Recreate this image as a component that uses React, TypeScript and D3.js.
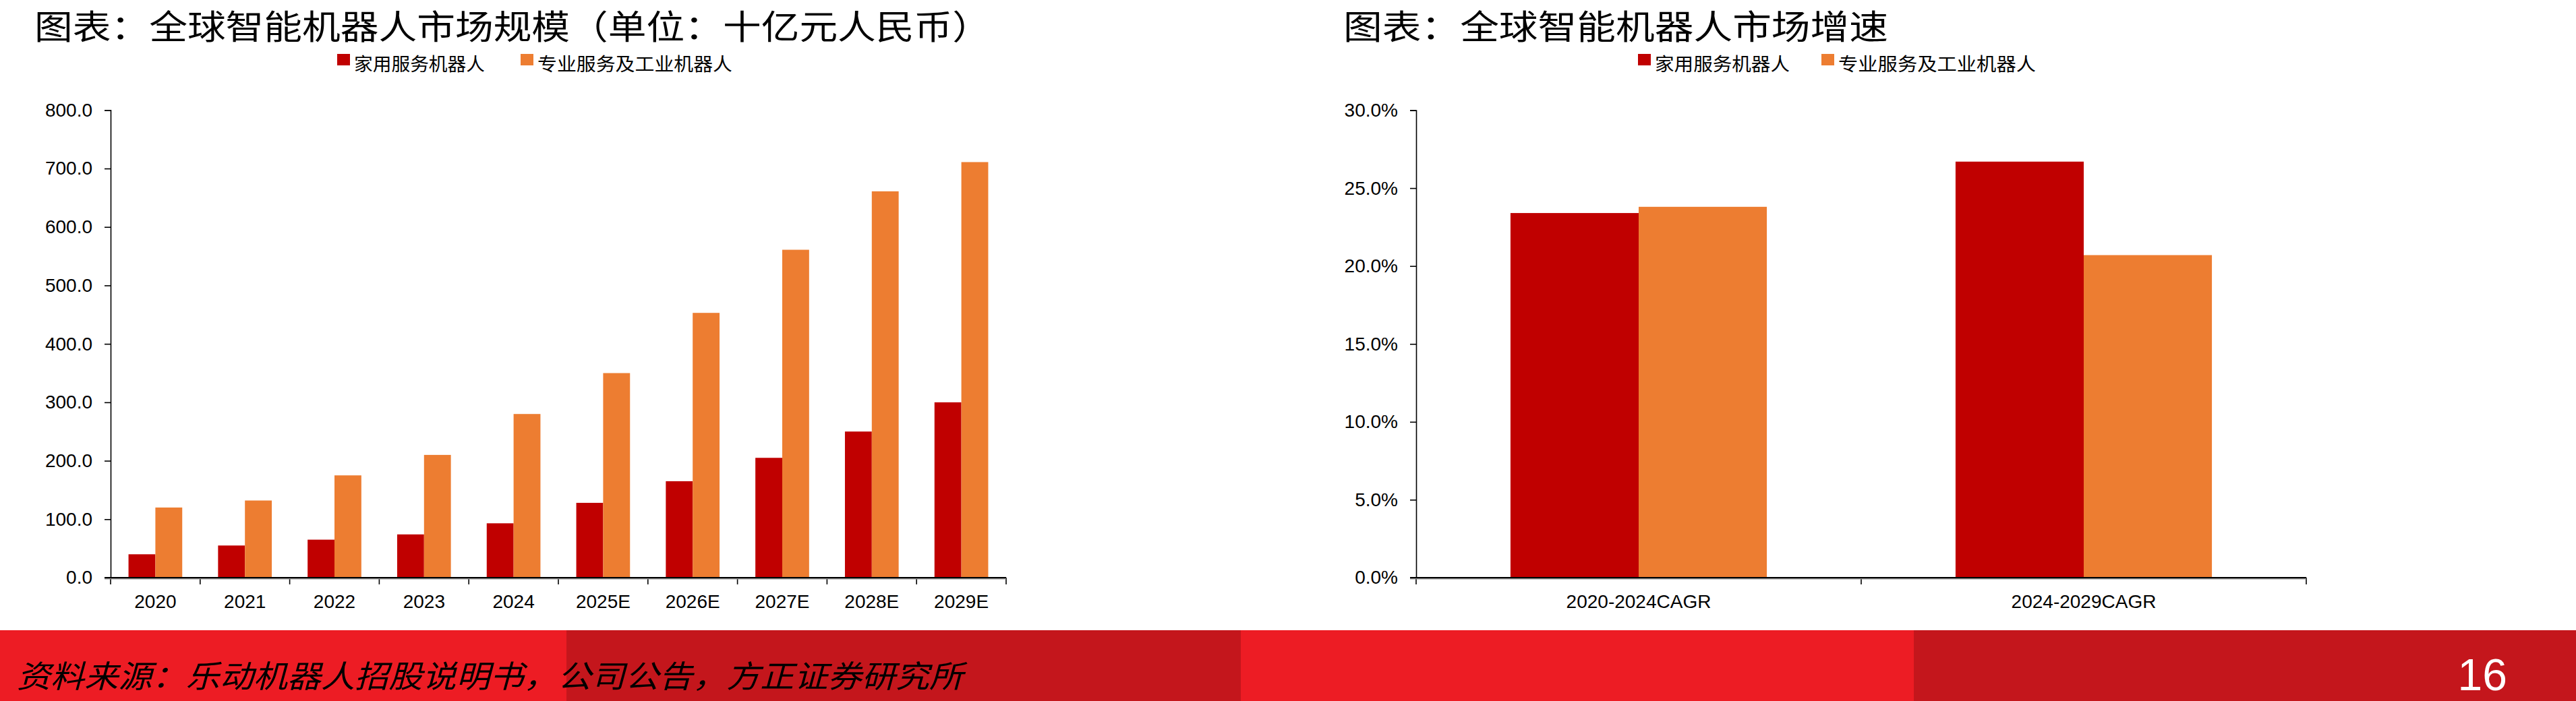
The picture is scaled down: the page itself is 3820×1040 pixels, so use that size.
import React, { useEffect, useRef } from 'react';
import * as d3 from 'd3';

// Chart data
const years = ['2020', '2021', '2022', '2023', '2024', '2025E', '2026E', '2027E', '2028E', '2029E'];
const homeRobots = [40, 55, 65, 74, 93, 128, 165, 205, 250, 300];
const proRobots = [120, 132, 175, 210, 280, 350, 453, 561, 661, 711];

const cagrPeriods = ['2020-2024CAGR', '2024-2029CAGR'];
const cagrHome = [0.234, 0.267];
const cagrPro = [0.238, 0.207];

const seriesNames = ['家用服务机器人', '专业服务及工业机器人'];
const seriesColors = ['#C00000', '#ED7D31'];

const sizeTicks = [0, 100, 200, 300, 400, 500, 600, 700, 800];
const cagrTicks = [0, 0.05, 0.1, 0.15, 0.2, 0.25, 0.3];

const leftTitle = '图表：全球智能机器人市场规模（单位：十亿元人民币）';
const rightTitle = '图表：全球智能机器人市场增速';
const sourceNote = '资料来源：乐动机器人招股说明书，公司公告，方正证券研究所';
const pageNo = '16';

const WIDTH = 3820;
const HEIGHT = 1040;
const CJK = '"Noto Sans CJK SC", sans-serif';
const NUM = '"Liberation Sans", Arial, sans-serif';

interface PanelConfig {
  title: string;
  titleX: number;
  titleLen: number;
  legendX: number;
  legendLens: number[];
  x0: number;
  x1: number;
  yTop: number;
  yBottom: number;
  categories: string[];
  series: number[][];
  ticks: number[];
  fmt: (d: number) => string;
  paddingInner: number;
}

const drawPanel = (svg: d3.Selection<SVGSVGElement, unknown, null, undefined>, cfg: PanelConfig) => {
  const g = svg.append('g');

  // Title
  g.append('text')
    .attr('x', cfg.titleX)
    .attr('y', 58)
    .attr('textLength', cfg.titleLen)
    .attr('lengthAdjust', 'spacingAndGlyphs')
    .style('font-family', CJK)
    .style('font-size', '50px')
    .style('fill', '#000')
    .text(cfg.title);

  // Legend
  const legendOffsets = [0, 272];
  seriesNames.forEach((name, i) => {
    const lx = cfg.legendX + legendOffsets[i];
    g.append('rect')
      .attr('x', lx)
      .attr('y', 80)
      .attr('width', 19)
      .attr('height', 17)
      .attr('fill', seriesColors[i]);
    g.append('text')
      .attr('x', lx + 25)
      .attr('y', 105)
      .attr('textLength', cfg.legendLens[i])
      .attr('lengthAdjust', 'spacingAndGlyphs')
      .style('font-family', CJK)
      .style('font-size', '27px')
      .style('fill', '#000')
      .text(name);
  });

  // Scales
  const xScale = d3
    .scaleBand<string>()
    .domain(cfg.categories)
    .range([cfg.x0, cfg.x1])
    .paddingInner(cfg.paddingInner)
    .paddingOuter(cfg.paddingInner / 2);

  const xInner = d3
    .scaleBand<number>()
    .domain(cfg.series.map((_, i) => i))
    .range([0, xScale.bandwidth()]);

  const yScale = d3
    .scaleLinear()
    .domain([cfg.ticks[0], cfg.ticks[cfg.ticks.length - 1]])
    .range([cfg.yBottom, cfg.yTop]);

  // Bars
  cfg.series.forEach((values, si) => {
    g.append('g')
      .selectAll('rect')
      .data(values)
      .enter()
      .append('rect')
      .attr('x', (_, i) => (xScale(cfg.categories[i]) ?? 0) + (xInner(si) ?? 0))
      .attr('y', d => yScale(d))
      .attr('width', xInner.bandwidth())
      .attr('height', d => yScale(0) - yScale(d) + 2)
      .attr('fill', seriesColors[si]);
  });

  // Y axis
  const yAxis = g
    .append('g')
    .attr('transform', `translate(${cfg.x0},0)`)
    .call(
      d3
        .axisLeft(yScale)
        .tickValues(cfg.ticks)
        .tickSize(9)
        .tickPadding(18)
        .tickFormat(d => cfg.fmt(d as number))
    );
  yAxis.select('.domain').attr('stroke', '#000').attr('stroke-width', 1.6);
  yAxis.selectAll('.tick line').attr('stroke', '#000').attr('stroke-width', 1.6);
  yAxis
    .selectAll('.tick text')
    .style('font-family', NUM)
    .style('font-size', '28px')
    .style('fill', '#000');

  // X axis labels
  const xAxis = g
    .append('g')
    .attr('transform', `translate(0,${cfg.yBottom})`)
    .call(d3.axisBottom(xScale).tickSize(0).tickPadding(25));
  xAxis.select('.domain').remove();
  xAxis
    .selectAll('.tick text')
    .style('font-family', NUM)
    .style('font-size', '28px')
    .style('fill', '#000');

  // X axis line with tick marks at category boundaries
  const step = xScale.step();
  g.append('g')
    .selectAll('line')
    .data(d3.range(cfg.categories.length + 1))
    .enter()
    .append('line')
    .attr('x1', i => cfg.x0 + i * step)
    .attr('x2', i => cfg.x0 + i * step)
    .attr('y1', cfg.yBottom)
    .attr('y2', cfg.yBottom + 10)
    .attr('stroke', '#000')
    .attr('stroke-width', 1.6);

  g.append('line')
    .attr('x1', cfg.x0 - 9)
    .attr('x2', cfg.x1)
    .attr('y1', cfg.yBottom + 1.5)
    .attr('y2', cfg.yBottom + 1.5)
    .attr('stroke', '#8c8c8c')
    .attr('stroke-width', 2);
  g.append('line')
    .attr('x1', cfg.x0 - 9)
    .attr('x2', cfg.x1)
    .attr('y1', cfg.yBottom)
    .attr('y2', cfg.yBottom)
    .attr('stroke', '#000')
    .attr('stroke-width', 2);
};

const App: React.FC = () => {
  const svgRef = useRef<SVGSVGElement>(null);

  useEffect(() => {
    if (!svgRef.current) return;
    const svg = d3.select(svgRef.current);
    svg.selectAll('*').remove();

    svg.append('rect').attr('width', WIDTH).attr('height', HEIGHT).attr('fill', '#fff');

    drawPanel(svg, {
      title: leftTitle,
      titleX: 51,
      titleLen: 1418,
      legendX: 500,
      legendLens: [194, 289],
      x0: 164,
      x1: 1492,
      yTop: 163.3,
      yBottom: 857,
      categories: years,
      series: [homeRobots, proRobots],
      ticks: sizeTicks,
      fmt: d3.format('.1f'),
      paddingInner: 0.4
    });

    drawPanel(svg, {
      title: rightTitle,
      titleX: 1992,
      titleLen: 808,
      legendX: 2429,
      legendLens: [200, 293],
      x0: 2100,
      x1: 3420,
      yTop: 163.5,
      yBottom: 857,
      categories: cagrPeriods,
      series: [cagrHome, cagrPro],
      ticks: cagrTicks,
      fmt: d3.format('.1%'),
      paddingInner: 0.424
    });

    // Footer band
    const bands = [
      { x: 0, w: 840, c: '#ED1C24' },
      { x: 840, w: 1000, c: '#C4161C' },
      { x: 1840, w: 998, c: '#ED1C24' },
      { x: 2838, w: 982, c: '#C4161C' }
    ];
    svg
      .append('g')
      .selectAll('rect')
      .data(bands)
      .enter()
      .append('rect')
      .attr('x', d => d.x)
      .attr('y', 935)
      .attr('width', d => d.w)
      .attr('height', HEIGHT - 935)
      .attr('fill', d => d.c);

    svg
      .append('text')
      .attr('x', 25)
      .attr('y', 1020)
      .attr('textLength', 1403)
      .attr('lengthAdjust', 'spacingAndGlyphs')
      .style('font-family', CJK)
      .style('font-style', 'italic')
      .style('font-size', '46px')
      .style('fill', '#000')
      .text(sourceNote);

    svg
      .append('text')
      .attr('x', 3718)
      .attr('y', 1024)
      .attr('text-anchor', 'end')
      .style('font-family', NUM)
      .style('font-size', '66px')
      .style('fill', '#fff')
      .text(pageNo);
  }, []);

  return (
    <svg
      ref={svgRef}
      width={WIDTH}
      height={HEIGHT}
      style={{ position: 'absolute', left: 0, top: 0, display: 'block' }}
    />
  );
};

export default App;
